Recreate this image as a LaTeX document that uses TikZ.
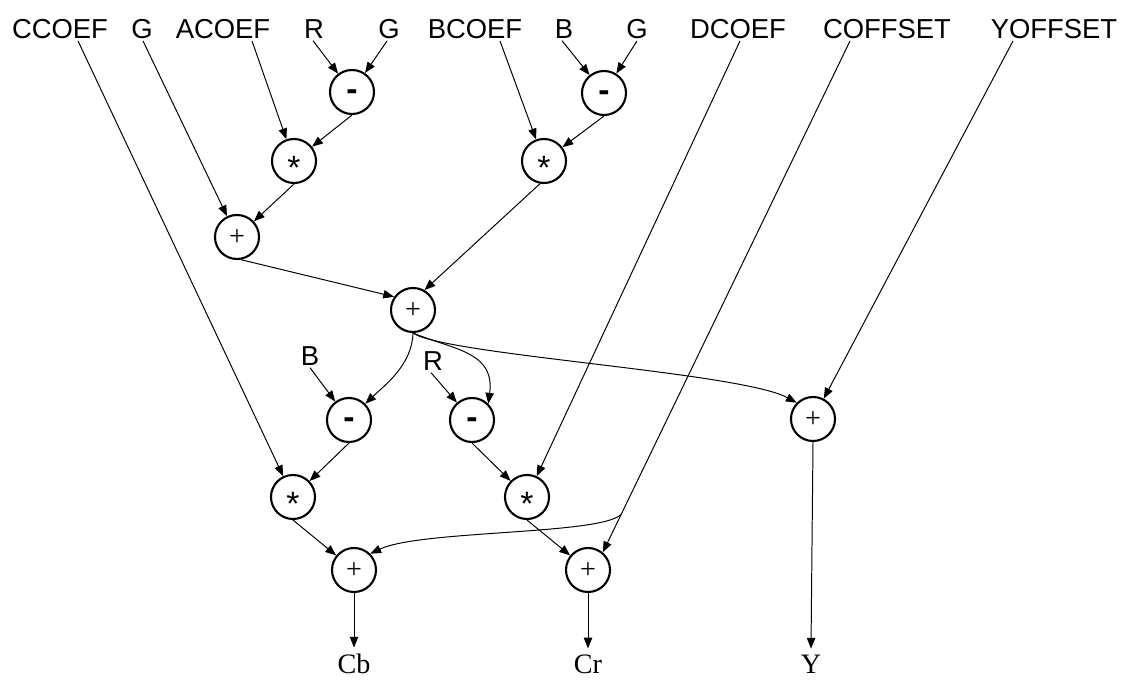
\documentclass[tikz,border=0pt]{standalone}
\usepackage{fontspec}
\setmainfont{Liberation Serif}
\setsansfont{Liberation Sans}
\usetikzlibrary{arrows.meta}
\newcommand{\opsub}{{\sffamily\bfseries\fontsize{24}{26}\selectfont\raisebox{-.26em}[0pt][0pt]{-}}}
\newcommand{\opmul}{{\sffamily\fontsize{24}{26}\selectfont\raisebox{-.56em}[0pt][0pt]{*}}}
\newcommand{\opadd}{{\rmfamily\fontsize{20}{22}\selectfont\raisebox{-.31em}[0pt][0pt]{+}}}
\tikzset{
  opnode/.style   = {circle, draw, line width=1.5pt, minimum size=1.1cm, inner sep=0pt},
  inlabel/.style  = {font=\sffamily\fontsize{19.5}{21}\selectfont, inner sep=1pt, anchor=base},
  outlabel/.style = {font=\rmfamily\fontsize{20}{22}\selectfont, inner sep=4pt, anchor=base},
  flow/.style     = {-{Triangle[length=2.7mm,width=2.1mm]}, line width=0.7pt}
}

\begin{document}
\begin{tikzpicture}[x=0.025cm,y=-0.025cm]
  \fill[white] (0,0) rectangle (1131,681);
  \useasboundingbox (0,0) rectangle (1131,681);
  % --- inputs along the top
  \node[inlabel] (ccoef)   at (60,39)   {CCOEF};
  \node[inlabel] (g1)      at (142,39)  {G};
  \node[inlabel] (acoef)   at (223,39)  {ACOEF};
  \node[inlabel] (r1)      at (314,39)  {R};
  \node[inlabel] (g2)      at (389,39)  {G};
  \node[inlabel] (bcoef)   at (475,39)  {BCOEF};
  \node[inlabel] (b1)      at (564,39)  {B};
  \node[inlabel] (g3)      at (637,39)  {G};
  \node[inlabel] (dcoef)   at (738,39)  {DCOEF};
  \node[inlabel] (coffset) at (887,39)  {COFFSET};
  \node[inlabel] (yoffset) at (1054,39) {YOFFSET};
  \node[inlabel] (b2)      at (310,366) {B};
  \node[inlabel] (r2)      at (433,371) {R};
  % --- operators
  \node[opnode] (sub1) at (352,92)  {\opsub};
  \node[opnode] (sub2) at (604,93)  {\opsub};
  \node[opnode] (mul1) at (294,161) {\opmul};
  \node[opnode] (mul2) at (544,161) {\opmul};
  \node[opnode] (add1) at (237,237) {\opadd};
  \node[opnode] (add2) at (413,310) {\opadd};
  \node[opnode] (subB) at (349,420) {\opsub};
  \node[opnode] (subR) at (472,420) {\opsub};
  \node[opnode] (addY) at (813,419) {\opadd};
  \node[opnode] (mulB) at (293,497) {\opmul};
  \node[opnode] (mulR) at (527,497) {\opmul};
  \node[opnode] (addB) at (354,570) {\opadd};
  \node[opnode] (addR) at (588,570) {\opadd};
  % --- outputs
  \node[outlabel] (cbout) at (354,673) {Cb};
  \node[outlabel] (crout) at (588,673) {Cr};
  \node[outlabel] (yout)  at (811,673) {Y};

  % --- luma sum
  \draw[flow] ([shift={(-1,0)}]r1.south) -- (sub1);
  \draw[flow] ([shift={(-2,0)}]g2.south) -- (sub1);
  \draw[flow] (sub1.south) -- (mul1);
  \draw[flow] ([shift={(29,0)}]acoef.south) -- (mul1);
  \draw[flow] ([shift={(1,0)}]g1.south) -- (add1);
  \draw[flow] (mul1.south) -- (add1);
  \draw[flow] ([shift={(-2,0)}]b1.south) -- (sub2);
  \draw[flow] (g3.south) -- (sub2);
  \draw[flow] (sub2.south) -- (mul2);
  \draw[flow] ([shift={(25,0)}]bcoef.south) -- (mul2);
  \draw[flow] (add1.-80) -- (add2.145);
  \draw[flow] (mul2.-100) -- (add2.60);
  % fan-out of the sum
  \draw[flow] (add2.south) .. controls (412,365) and (385,385) .. (subB.45);
  \draw[flow] (add2.south) .. controls (455,350) and (495,352) .. (subR.45);
  \draw[flow] (add2.south) .. controls (445,355) and (740,372) .. (addY.135);
  % --- Y
  \draw[flow] ([shift={(-41,0)}]yoffset.south) -- (addY);
  \draw[flow] (addY.south) -- (yout.north);
  % --- Cb and Cr
  \draw[flow] (b2.south) -- (subB);
  \draw[flow] ([shift={(-2,0)}]r2.south) -- (subR);
  \draw[flow] (subB.south) -- (mulB);
  \draw[flow] (subR.south) -- (mulR);
  \draw[flow] ([shift={(18,0)}]ccoef.south) -- (mulB);
  \draw[flow] ([shift={(2,0)}]dcoef.south) -- (mulR);
  \draw[flow] (mulB.south) -- (addB);
  \draw[flow] (mulR.south) -- (addR);
  \draw[flow] ([shift={(-37,0)}]coffset.south) -- coordinate[pos=0.926] (tap) (addR.50);
  \draw[flow] (tap) .. controls (600,535) and (420,530) .. (addB.45);
  \draw[flow] (addB.south) -- (cbout.north);
  \draw[flow] (addR.south) -- (crout.north);
\end{tikzpicture}
\end{document}
